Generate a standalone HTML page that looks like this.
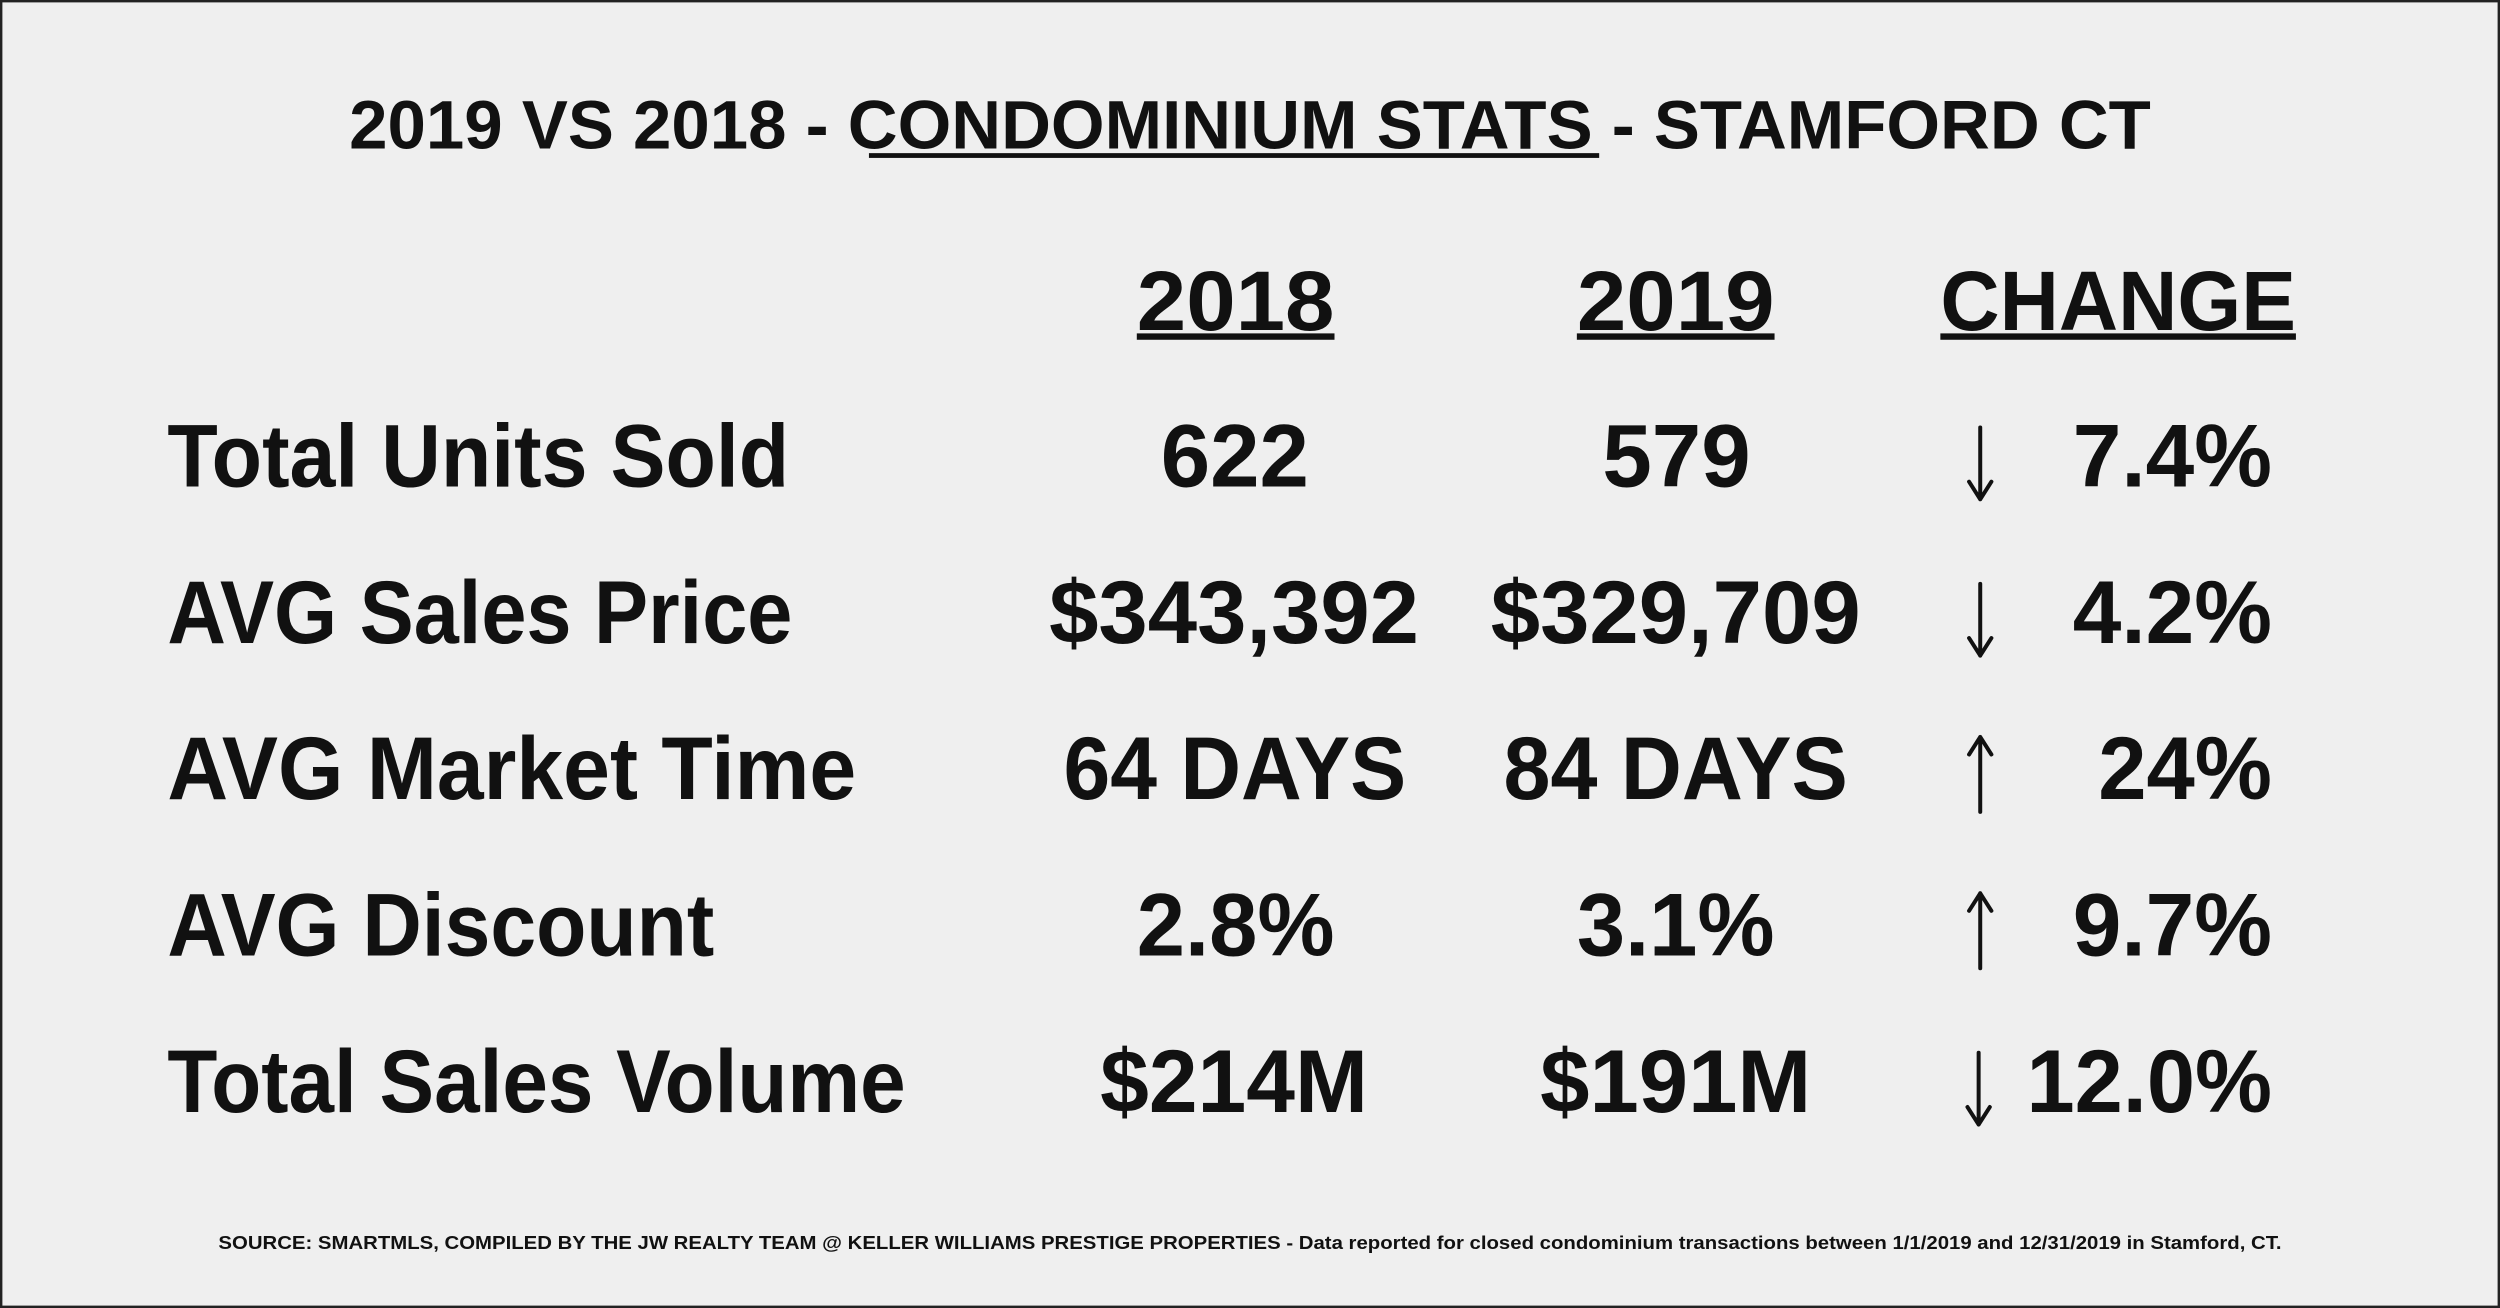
<!DOCTYPE html>
<html><head><meta charset="utf-8"><style>
html,body{margin:0;padding:0;background:#efefef;}
svg{display:block;}
text{font-family:"Liberation Sans",sans-serif;font-weight:bold;fill:#111;}
</style></head><body>
<svg width="2500" height="1308" viewBox="0 0 1568 820" preserveAspectRatio="none" xmlns="http://www.w3.org/2000/svg">
<rect x="0" y="0" width="1568" height="820" fill="#efefef"/>
<rect x="0.75" y="0.75" width="1566.5" height="818.5" fill="none" stroke="#222" stroke-width="1.5"/>
<text x="219" y="93" font-size="43" textLength="1130" lengthAdjust="spacingAndGlyphs">2019 VS 2018 - CONDOMINIUM STATS - STAMFORD CT</text>
<rect x="545" y="96" width="458" height="3" fill="#111"/>
<text x="713" y="207" font-size="53" textLength="124" lengthAdjust="spacingAndGlyphs">2018</text>
<text x="989" y="207" font-size="53" textLength="124" lengthAdjust="spacingAndGlyphs">2019</text>
<text x="1217" y="207" font-size="53" textLength="223" lengthAdjust="spacingAndGlyphs">CHANGE</text>
<rect x="713" y="209" width="124" height="4" fill="#111"/>
<rect x="989" y="209" width="124" height="4" fill="#111"/>
<rect x="1217" y="209" width="223" height="4" fill="#111"/>
<g font-size="56">
<text x="105" y="305" textLength="390" lengthAdjust="spacingAndGlyphs">Total Units Sold</text>
<text x="728" y="305" textLength="93" lengthAdjust="spacingAndGlyphs">622</text>
<text x="1005" y="305" textLength="93" lengthAdjust="spacingAndGlyphs">579</text>
<text x="1300" y="305" textLength="125" lengthAdjust="spacingAndGlyphs">7.4%</text>
<text x="105" y="403" textLength="392" lengthAdjust="spacingAndGlyphs">AVG Sales Price</text>
<text x="658" y="403" textLength="232" lengthAdjust="spacingAndGlyphs">$343,392</text>
<text x="935" y="403" textLength="232" lengthAdjust="spacingAndGlyphs">$329,709</text>
<text x="1300" y="403" textLength="125" lengthAdjust="spacingAndGlyphs">4.2%</text>
<text x="105" y="501" textLength="432" lengthAdjust="spacingAndGlyphs">AVG Market Time</text>
<text x="667" y="501" textLength="215" lengthAdjust="spacingAndGlyphs">64 DAYS</text>
<text x="943" y="501" textLength="216" lengthAdjust="spacingAndGlyphs">84 DAYS</text>
<text x="1316" y="501" textLength="109" lengthAdjust="spacingAndGlyphs">24%</text>
<text x="105" y="599" textLength="343" lengthAdjust="spacingAndGlyphs">AVG Discount</text>
<text x="713" y="599" textLength="124" lengthAdjust="spacingAndGlyphs">2.8%</text>
<text x="989" y="599" textLength="124" lengthAdjust="spacingAndGlyphs">3.1%</text>
<text x="1300" y="599" textLength="125" lengthAdjust="spacingAndGlyphs">9.7%</text>
<text x="105" y="697" textLength="463" lengthAdjust="spacingAndGlyphs">Total Sales Volume</text>
<text x="690" y="697" textLength="168" lengthAdjust="spacingAndGlyphs">$214M</text>
<text x="966" y="697" textLength="170" lengthAdjust="spacingAndGlyphs">$191M</text>
<text x="1271" y="697" textLength="154" lengthAdjust="spacingAndGlyphs">12.0%</text>
</g>
<g stroke="#111" stroke-width="2.5" fill="none" stroke-linecap="round" stroke-linejoin="round">
<path d="M1242 268 V313 M1235 302 L1242 313 L1249 302"/>
<path d="M1242 366 V411 M1235 400 L1242 411 L1249 400"/>
<path d="M1242 462 V509 M1235 473 L1242 462 L1249 473"/>
<path d="M1242 560 V607 M1235 571 L1242 560 L1249 571"/>
<path d="M1241 660 V705 M1234 694 L1241 705 L1248 694"/>
</g>
<text x="137" y="783" font-size="11.5" textLength="1294" lengthAdjust="spacingAndGlyphs">SOURCE: SMARTMLS, COMPILED BY THE JW REALTY TEAM @ KELLER WILLIAMS PRESTIGE PROPERTIES - Data reported for closed condominium transactions between 1/1/2019 and 12/31/2019 in Stamford, CT.</text>
</svg>
</body></html>
